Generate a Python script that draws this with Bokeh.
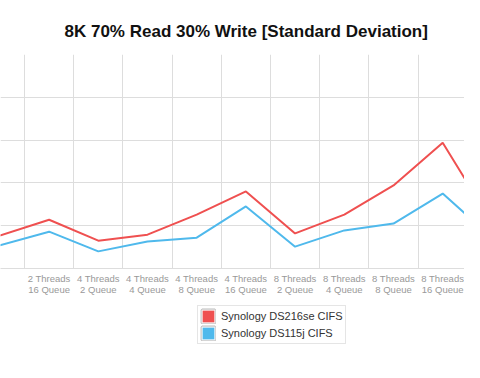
from bokeh.plotting import figure
from bokeh.layouts import column
from bokeh.models import Range1d, FixedTicker, Legend, LegendItem, ColumnDataSource
from bokeh.embed import file_html
from bokeh.resources import INLINE

categories = ["2 Threads\n8 Queue", "2 Threads\n16 Queue", "4 Threads\n2 Queue",
              "4 Threads\n4 Queue", "4 Threads\n8 Queue", "4 Threads\n16 Queue",
              "8 Threads\n2 Queue", "8 Threads\n4 Queue", "8 Threads\n8 Queue",
              "8 Threads\n16 Queue", "16 Threads\n2 Queue"]
ds216se = [0.77, 1.14, 0.65, 0.79, 1.26, 1.80, 0.82, 1.26, 1.94, 2.94, 1.07]
ds115j = [0.54, 0.86, 0.40, 0.63, 0.72, 1.45, 0.51, 0.89, 1.05, 1.75, 0.72]
series_names = ["Synology DS216se CIFS", "Synology DS115j CIFS"]
y_ticks = [0, 1, 2, 3, 4, 5]

RED = "#EF5050"
BLUE = "#4FB9EC"
FONT = "Liberation Sans"

idx = list(range(len(categories)))
src = ColumnDataSource(dict(x=idx, a=ds216se, b=ds115j))

p = figure(width=464, height=300, output_backend="svg", toolbar_location=None,
           x_range=Range1d(0.012, 9.443), y_range=Range1d(y_ticks[0], y_ticks[-1]),
           min_border_left=0, min_border_right=0, min_border_top=54, min_border_bottom=32)
p.outline_line_color = None
p.background_fill_color = "white"
p.border_fill_color = "white"

p.title.text = "8K 70% Read 30% Write [Standard Deviation]"
p.title.text_font = FONT
p.title.text_font_size = "17px"
p.title.text_font_style = "bold"
p.title.text_color = "#111111"
p.title.align = "left"
p.title.offset = 64
p.title.standoff = 27

p.yaxis.visible = False
p.ygrid.ticker = FixedTicker(ticks=y_ticks)
p.ygrid.grid_line_color = "#dddddd"

ax = p.xaxis[0]
ax.ticker = FixedTicker(ticks=idx)
ax.major_label_overrides = {i: c for i, c in zip(idx, categories)}
ax.major_tick_line_color = None
ax.major_tick_in = 0
ax.major_tick_out = 0
ax.minor_tick_line_color = None
ax.axis_line_color = "#dddddd"
ax.major_label_text_font = FONT
ax.major_label_text_font_size = "9.5px"
ax.major_label_text_color = "#999999"
ax.major_label_text_line_height = 1.05
ax.major_label_standoff = 4

p.xgrid.ticker = FixedTicker(ticks=[i + 0.5 for i in idx])
p.xgrid.grid_line_color = "#dddddd"

p.line("x", "a", source=src, color=RED, line_width=2)
p.line("x", "b", source=src, color=BLUE, line_width=2)

# legend strip below the chart
lg = figure(width=464, height=62, output_backend="svg", toolbar_location=None,
            x_range=Range1d(0, 1), y_range=Range1d(0, 1),
            min_border=0, min_border_left=0, min_border_right=0,
            min_border_top=0, min_border_bottom=0)
lg.axis.visible = False
lg.grid.visible = False
lg.outline_line_color = None
lg.background_fill_color = "white"
lg.border_fill_color = "white"

nan = float("nan")
swatch = ColumnDataSource(dict(l=[nan], r=[nan], t=[nan], b=[nan]))
items = []
for name, col in zip(series_names, [RED, BLUE]):
    frame_r = lg.quad(left="l", right="r", top="t", bottom="b", source=swatch,
                      fill_color=None, line_color="#bbbbbb", line_width=3)
    fill_r = lg.quad(left="l", right="r", top="t", bottom="b", source=swatch,
                     fill_color=col, line_color="white", line_width=1)
    items.append(LegendItem(label=name, renderers=[frame_r, fill_r]))

legend = Legend(items=items, location=(197, 18), orientation="vertical",
                glyph_width=16, glyph_height=16, label_height=13, label_standoff=5,
                spacing=1, padding=2, margin=0,
                border_line_color="#cccccc", border_line_width=1,
                background_fill_color="white", background_fill_alpha=1,
                label_text_font=FONT, label_text_font_size="11px",
                label_text_color="#333333")
lg.add_layout(legend)

layout = column(p, lg, spacing=0)
open("out.html", "w").write(file_html(layout, INLINE))
